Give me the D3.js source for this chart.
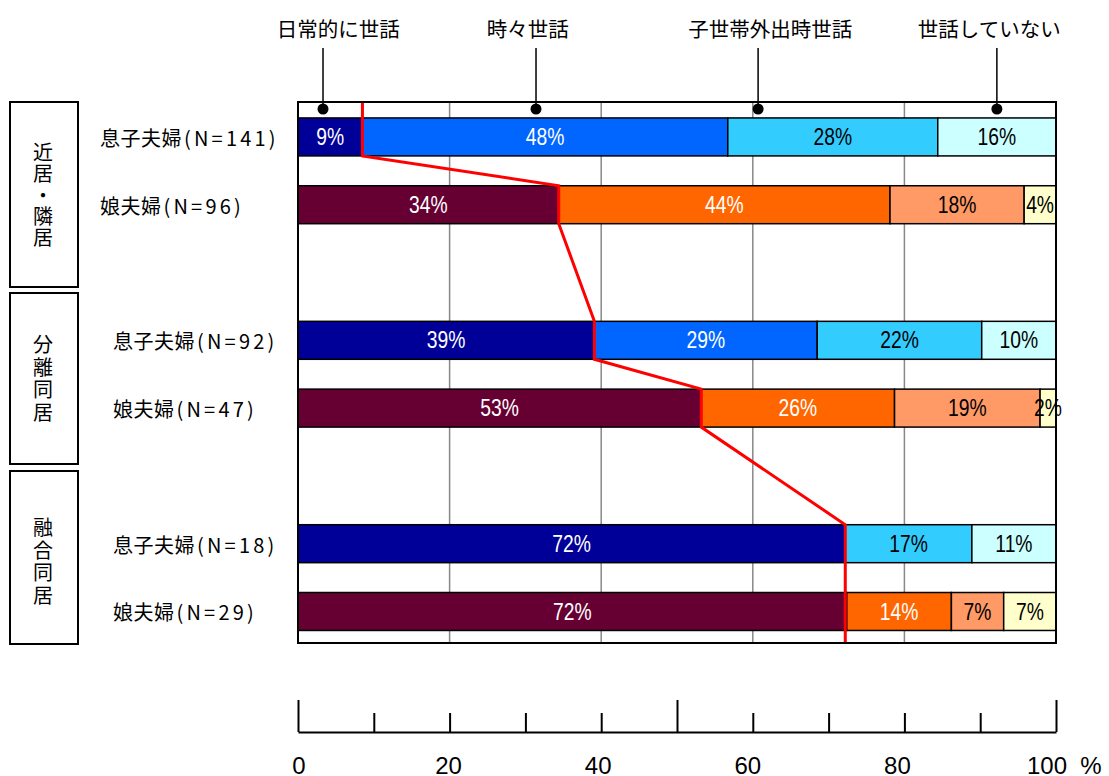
<!DOCTYPE html>
<html>
<head>
<meta charset="utf-8">
<script src="https://cdn.jsdelivr.net/npm/d3@7"></script>
<style>
  html, body { margin: 0; padding: 0; background: #fff; }
  svg { display: block; }
</style>
</head>
<body>
<svg id="chart" width="1109" height="776"></svg>
<script>
// ---- data -------------------------------------------------------------
const groups = ["近居・隣居", "分離同居", "融合同居"];
const rowNames = ["息子夫婦", "娘夫婦", "息子夫婦", "娘夫婦", "息子夫婦", "娘夫婦"];
const rowN = [141, 96, 92, 47, 18, 29];
const rowGroup = [0, 0, 1, 1, 2, 2];
const rowKind = ["son", "daughter", "son", "daughter", "son", "daughter"];
const categories = ["日常的に世話", "時々世話", "子世帯外出時世話", "世話していない"];

// share of each care category per row (%)
const daily     = [8.5, 34.4, 39.1, 53.2, 72.2, 72.4];
const sometimes = [48.2, 43.7, 29.4, 25.5, 0.0, 13.8];
const whenOut   = [27.7, 17.7, 21.7, 19.2, 16.7, 6.9];
const notCaring = [15.6, 4.2, 9.8, 2.1, 11.1, 6.9];

const axisTicks = [0, 10, 20, 30, 40, 50, 60, 70, 80, 90, 100];
const axisLabels = [0, 20, 40, 60, 80, 100];
const gridValues = [20, 40, 60, 80];

// ---- layout & style ---------------------------------------------------
const plot = { left: 298, right: 1056, top: 102, bottom: 643 };
const palette = {
  son:      ["#000099", "#0066FF", "#33CCFF", "#CCFFFF"],
  daughter: ["#660033", "#FF6600", "#FF9966", "#FFFFCC"]
};
const textColor = ["#fff", "#fff", "#000", "#000"];
const legendDotPct = [3.3, 31.4, 60.7, 92.2];
const legendTextPct = [5.3, 30.3, 62.3, 91.2];
const groupBoxes = [[102, 287], [293, 464], [471, 644]];
const groupLabelX = [100, 113, 113];

const svg = d3.select("#chart");
const jp = "'Noto Sans CJK JP', 'Noto Sans', sans-serif";

const x = d3.scaleLinear().domain([0, 100]).range([plot.left, plot.right]);
const slots = ["r0", "r1", "gapA", "r2", "r3", "gapB", "r4", "r5"];
const y = d3.scaleBand().domain(slots).range([plot.top, plot.bottom])
  .paddingInner(0.44).paddingOuter(0.21).align(0.56);
const rowKey = i => "r" + i;

// stacked segments per row
const series = [daily, sometimes, whenOut, notCaring];
const rows = rowNames.map((name, i) => {
  let acc = 0;
  const segs = series.map((s, k) => {
    const seg = { k, x0: acc, x1: acc + s[i], v: s[i] };
    acc += s[i];
    return seg;
  });
  return { i, name, n: rowN[i], segs, kind: rowKind[i] };
});

// gridlines
svg.append("g").selectAll("line").data(gridValues).join("line")
  .attr("x1", d => x(d)).attr("x2", d => x(d))
  .attr("y1", plot.top).attr("y2", plot.bottom)
  .attr("stroke", "#888").attr("stroke-width", 1.5);

// bars
const rowG = svg.append("g").selectAll("g").data(rows).join("g");
rowG.selectAll("rect").data(r => r.segs.filter(s => s.v > 0).map(s => ({ ...s, row: r })))
  .join("rect")
  .attr("x", s => x(s.x0)).attr("width", s => x(s.x1) - x(s.x0))
  .attr("y", s => y(rowKey(s.row.i))).attr("height", y.bandwidth())
  .attr("fill", s => palette[s.row.kind][s.k])
  .attr("stroke", "#000").attr("stroke-width", 1.5);

// value labels inside segments (condensed)
rowG.selectAll("text").data(r => r.segs.filter(s => s.v > 0).map(s => ({ ...s, row: r })))
  .join("text")
  .attr("transform", s => `translate(${(x(s.x0) + x(s.x1)) / 2},${y(rowKey(s.row.i)) + y.bandwidth() / 2}) scale(0.84,1)`)
  .attr("text-anchor", "middle").attr("dominant-baseline", "central")
  .attr("font-family", "'Liberation Sans Narrow', 'Arial Narrow', 'Liberation Sans', sans-serif")
  .attr("font-size", 23)
  .attr("fill", s => textColor[s.k])
  .text(s => Math.round(s.v) + "%");

// red line tracing the daily-care boundary
const redPts = [[x(daily[0]), plot.top]];
daily.forEach((v, i) => {
  const top = y(rowKey(i)), bot = top + y.bandwidth();
  if (i === daily.length - 1) return; // last two rows share one boundary
  if (i > 0) redPts.push([x(v), top]);
  redPts.push([x(v), i === daily.length - 2 ? plot.bottom : bot]);
});
svg.append("path").datum(redPts)
  .attr("d", d3.line())
  .attr("fill", "none").attr("stroke", "#FF0000").attr("stroke-width", 3)
  .attr("stroke-linejoin", "miter");

// plot frame
svg.append("rect")
  .attr("x", plot.left).attr("y", plot.top)
  .attr("width", plot.right - plot.left).attr("height", plot.bottom - plot.top)
  .attr("fill", "none").attr("stroke", "#000").attr("stroke-width", 2);

// legend leaders and labels
const leg = svg.append("g");
leg.selectAll("line").data(categories).join("line")
  .attr("x1", (d, i) => x(legendDotPct[i])).attr("x2", (d, i) => x(legendDotPct[i]))
  .attr("y1", 48).attr("y2", 109)
  .attr("stroke", "#000").attr("stroke-width", 1.5);
leg.selectAll("circle").data(categories).join("circle")
  .attr("cx", (d, i) => x(legendDotPct[i])).attr("cy", 109).attr("r", 5.5)
  .attr("fill", "#000");
leg.selectAll("text").data(categories).join("text")
  .attr("x", (d, i) => x(legendTextPct[i])).attr("y", 28)
  .attr("text-anchor", "middle").attr("dominant-baseline", "central")
  .attr("font-family", jp).attr("font-size", 20.5)
  .text(d => d);

// row labels
const rl = svg.append("g").selectAll("text").data(rows).join("text")
  .attr("x", r => groupLabelX[rowGroup[r.i]])
  .attr("y", r => y(rowKey(r.i)) + y.bandwidth() / 2)
  .attr("dominant-baseline", "central")
  .attr("font-family", jp).attr("font-size", 20);
rl.append("tspan").attr("letter-spacing", 0.5).text(r => r.name);
rl.append("tspan").attr("dx", 2).attr("letter-spacing", 3.2).text(r => `(N=${r.n})`);

// group boxes with vertical labels
const gb = svg.append("g").selectAll("g").data(groups).join("g");
gb.append("rect")
  .attr("x", 10).attr("width", 68)
  .attr("y", (d, i) => groupBoxes[i][0])
  .attr("height", (d, i) => groupBoxes[i][1] - groupBoxes[i][0])
  .attr("fill", "#fff").attr("stroke", "#000").attr("stroke-width", 2);
gb.append("text")
  .attr("x", 43)
  .attr("y", (d, i) => (groupBoxes[i][0] + groupBoxes[i][1]) / 2 + (i === 2 ? 4 : 0) + 1.2)
  .style("writing-mode", "vertical-rl")
  .attr("text-anchor", "middle")
  .attr("font-family", jp).attr("font-size", 20)
  .attr("letter-spacing", d => (Array.from(d).length > 4 ? 1.2 : 2.6))
  .text(d => d);

// bottom percentage scale
const axisY = 732;
const axis = d3.axisTop(x).tickValues(axisTicks).tickSizeInner(19).tickSizeOuter(0).tickFormat("");
const ax = svg.append("g").attr("transform", `translate(0,${axisY})`).call(axis);
ax.select(".domain").attr("stroke", "#000").attr("stroke-width", 2);
ax.selectAll(".tick line").attr("stroke", "#000").attr("stroke-width", 2)
  .attr("y2", d => (d % 50 === 0 ? -32 : -19));

const xl = d3.scaleLinear().domain([0, 100]).range([299, 1047]);
svg.append("g").selectAll("text").data(axisLabels).join("text")
  .attr("x", d => xl(d)).attr("y", 774)
  .attr("text-anchor", "middle")
  .attr("font-family", "'Liberation Sans', Arial, sans-serif").attr("font-size", 24)
  .text(d => d);
svg.append("text")
  .attr("x", xl(100) + 44).attr("y", 774)
  .attr("text-anchor", "middle")
  .attr("font-family", "'Liberation Sans', Arial, sans-serif").attr("font-size", 24)
  .text("%");
</script>
</body>
</html>
